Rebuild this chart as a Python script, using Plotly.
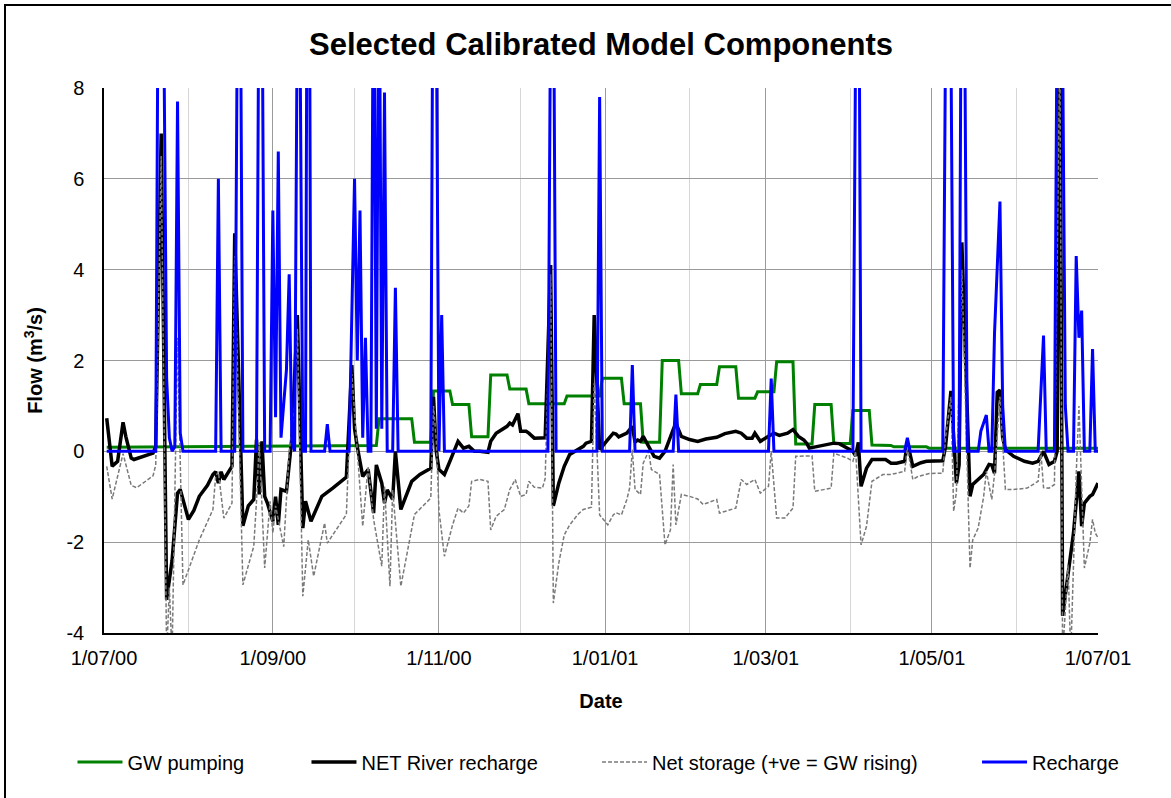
## import packages
import pandas as pd
import plotly.graph_objects as go


## global variables
start_date = pd.Timestamp('2000-07-01')
end_date = pd.Timestamp('2001-07-01')
font_family = 'Arial, Liberation Sans, sans-serif'

### y axis ticks (plain hyphen for negatives, as in the original)
y_tick_vals = [-4, -2, 0, 2, 4, 6, 8]
y_tick_text = ['-4', '-2', '0', '2', '4', '6', '8']

### model series (day number counted from 1/07/00, flow in m3/s)
pump_day = [1, 64, 100, 101, 113, 114, 120, 121,
            127, 128, 134, 135, 141, 142, 148, 149,
            155, 156, 169, 170, 182, 183, 190, 191,
            197, 198, 204, 205, 211, 212, 218, 219,
            225, 226, 232, 233, 239, 240, 246, 247,
            253, 254, 260, 261, 267, 268, 274, 275,
            281, 282, 289, 290, 302, 303, 365]
pump_flow = [0.09, 0.12, 0.13, 0.72, 0.72, 0.2, 0.2, 1.33,
             1.33, 1.03, 1.03, 0.32, 0.32, 1.68, 1.68, 1.37,
             1.37, 1.05, 1.05, 1.22, 1.22, 1.61, 1.61, 1.05,
             1.05, 0.2, 0.2, 2.0, 2.0, 1.27, 1.27, 1.47,
             1.47, 1.86, 1.86, 1.17, 1.17, 1.31, 1.31, 1.97,
             1.97, 0.16, 0.16, 1.03, 1.03, 0.17, 0.17, 0.9,
             0.9, 0.14, 0.13, 0.1, 0.1, 0.07, 0.07]

river_day = [1, 3, 5, 7, 8, 10, 11, 14, 18, 19,
             21, 23, 25, 27, 28, 31, 33, 35, 38, 40,
             41, 42, 43, 44, 47, 48, 51, 53, 55, 56,
             57, 58, 59, 60, 62, 63, 64, 65, 67, 69,
             71, 73, 74, 76, 77, 80, 84, 89, 91, 92,
             93, 95, 97, 99, 100, 102, 103, 104, 106, 107,
             109, 113, 116, 120, 121, 122, 123, 125, 127, 128,
             130, 132, 134, 136, 138, 141, 142, 144, 146, 148,
             149, 150, 152, 153, 155, 156, 158, 161, 162, 164,
             165, 167, 169, 171, 174, 176, 177, 179, 180, 182,
             185, 187, 188, 189, 192, 194, 195, 196, 197, 198,
             199, 202, 204, 206, 209, 210, 212, 215, 218, 221,
             225, 228, 232, 234, 236, 238, 239, 241, 244, 246,
             248, 251, 253, 255, 257, 258, 259, 262, 265, 268,
             270, 273, 275, 276, 277, 278, 280, 282, 287, 289,
             291, 294, 295, 297, 300, 302, 308, 309, 311, 313,
             314, 315, 318, 319, 321, 323, 325, 326, 327, 328,
             329, 330, 331, 334, 338, 341, 343, 345, 347, 349,
             350, 351, 352, 356, 358, 359, 360, 362, 363, 364,
             365]
river_flow = [0.73, -0.33, -0.22, 0.64, 0.33, -0.15, -0.18, -0.12, -0.04, 0.1,
              7.0, -3.27, -2.4, -0.92, -0.84, -1.5, -1.3, -0.99, -0.75, -0.51,
              -0.45, -0.7, -0.45, -0.62, -0.33, 4.8, -1.64, -1.2, -1.06, 0.26,
              -0.95, 0.22, -0.99, -1.14, -1.54, -1.0, -1.62, -0.84, -0.88, 0.3,
              3.0, -1.69, -1.1, -1.54, -1.39, -0.99, -0.81, -0.57, 1.9, 0.5,
              0.1, -0.55, -0.4, -1.36, -0.3, -0.7, -1.14, -0.85, -1.06, 0.0,
              -1.28, -0.66, -0.51, -0.37, 1.2, 0.0, -0.4, -0.51, -0.22, -0.07,
              0.22, 0.07, 0.11, 0.0, 0.0, -0.02, 0.22, 0.4, 0.47, 0.55,
              0.62, 0.58, 0.83, 0.44, 0.44, 0.4, 0.29, 0.29, 0.3, 4.1,
              -1.2, -0.7, -0.33, -0.07, 0.04, 0.11, 0.18, 0.22, 3.0, 0.04,
              0.26, 0.4, 0.38, 0.32, 0.4, 0.55, 0.2, 0.25, 0.22, 0.33,
              0.22, -0.11, -0.15, 0.0, 0.48, 0.62, 0.33, 0.26, 0.22, 0.27,
              0.31, 0.39, 0.44, 0.4, 0.29, 0.29, 0.4, 0.22, 0.33, 0.4,
              0.35, 0.4, 0.48, 0.33, 0.25, 0.18, 0.07, 0.11, 0.15, 0.18,
              0.17, 0.07, 0.0, -0.1, 0.2, -0.77, -0.37, -0.18, -0.18, -0.26,
              -0.26, -0.22, 0.2, -0.33, -0.25, -0.22, -0.21, 0.1, 1.33, -0.7,
              -0.3, 4.6, -0.99, -0.73, -0.62, -0.51, -0.29, -0.3, -0.48, 1.3,
              1.35, 0.3, 0.04, -0.11, -0.22, -0.26, -0.22, 0.0, -0.29, -0.22,
              0.0, 9.5, -3.62, -1.8, -0.44, -1.65, -1.14, -0.99, -0.95, -0.84,
              -0.7]

storage_day = [1, 3, 7, 10, 12, 18, 19, 21, 23, 24,
               25, 27, 29, 35, 40, 41, 42, 44, 47, 48,
               51, 55, 56, 57, 59, 61, 62, 63, 66, 67,
               68, 70, 71, 73, 75, 77, 81, 82, 89, 91,
               95, 97, 99, 102, 103, 105, 106, 109, 114, 120,
               121, 122, 123, 125, 128, 130, 132, 134, 135, 138,
               141, 142, 144, 147, 149, 151, 153, 155, 156, 158,
               161, 162, 164, 165, 167, 169, 171, 174, 176, 179,
               180, 182, 185, 187, 188, 190, 192, 193, 194, 195,
               197, 198, 200, 201, 204, 206, 208, 209, 210, 212,
               215, 218, 220, 225, 226, 232, 234, 236, 239, 241,
               244, 245, 247, 250, 253, 254, 260, 261, 267, 268,
               273, 275, 276, 278, 280, 282, 283, 286, 289, 294,
               295, 297, 299, 303, 308, 309, 311, 312, 313, 315,
               318, 319, 321, 323, 324, 326, 327, 329, 331, 334,
               339, 343, 344, 345, 347, 349, 351, 352, 354, 355,
               357, 358, 360, 362, 363, 364, 365]
storage_flow = [-0.33, -1.05, -0.05, -0.75, -0.8, -0.54, -0.3, 6.5, -4.5, -3.0,
                -4.5, 2.5, -2.94, -1.95, -1.28, -0.55, -0.45, -1.47, -1.14, 4.3,
                -2.94, -2.09, -1.1, 0.2, -2.57, -1.1, -1.8, -1.2, -2.1, -1.1,
                0.0, 1.0, 2.7, -3.19, -1.95, -2.75, -1.58, -2.02, -1.39, 1.7,
                -1.65, -0.33, -1.5, -2.53, -0.77, -2.97, -0.85, -2.97, -1.39, -1.03,
                1.0, 0.26, -1.3, -2.31, -1.62, -1.25, -1.36, -1.2, -0.66, -0.62,
                -0.66, -1.73, -1.43, -1.28, -0.84, -0.62, -0.99, -0.95, -0.66, -0.79,
                -0.81, -0.6, 3.9, -3.34, -2.46, -1.84, -1.62, -1.39, -1.28, -1.23,
                1.5, -1.4, -1.62, -1.4, -1.35, -1.4, -1.06, -0.81, 0.04, -0.84,
                -0.95, -0.26, 0.0, -0.4, -0.51, -2.06, -1.73, -0.29, -1.62, -0.95,
                -0.99, -1.05, -1.17, -1.06, -1.36, -1.25, -0.62, -0.73, -0.62, -0.92,
                -0.77, 0.0, -1.47, -1.47, -1.25, -0.11, -0.1, -0.88, -0.81, -0.04,
                -0.15, -0.22, 0.0, -2.06, -1.65, -0.66, -0.62, -0.51, -0.51, -0.44,
                0.1, -0.62, -0.55, -0.49, -0.48, 0.3, 1.2, -1.32, -0.9, 4.0,
                -2.57, -1.95, -1.69, -1.0, -0.44, -1.06, -0.5, 1.2, -0.84, -0.84,
                -0.81, -0.66, 0.0, -0.8, -0.81, -0.73, 9.0, -4.5, -2.5, -4.5,
                -0.5, 1.0, -2.57, -2.02, -1.5, -1.8, -1.9]

recharge_day = [1, 19, 20, 21, 22, 23, 24, 25, 26, 27, 28, 29,
                41, 42, 43, 48, 49, 50, 51, 56, 57, 58, 59,
                61, 62, 63, 64, 65, 67, 68, 69, 70, 71, 72, 73, 74, 75, 76,
                81, 82, 83, 90, 92, 93, 94, 95, 96, 97, 98, 99, 100, 101, 102, 103, 104,
                106, 107, 108, 120, 121, 122, 123, 124, 125,
                163, 164, 165, 166, 181, 182, 183, 193, 194, 195, 209, 210, 211,
                244, 245, 246, 275, 276, 277, 278, 294, 295, 296,
                308, 309, 310, 311, 312, 314, 315, 316, 317,
                321, 322, 324, 325, 326, 327, 329, 330, 331,
                343, 345, 346, 349, 350, 351, 352, 353, 354,
                356, 357, 358, 359, 360, 362, 363, 364, 365]
recharge_flow = [0, 0, 12, 14, 9, 1.6, 0.3, 0, 0.1, 7.7, 0.4, 0,
                 0, 6.0, 0, 0, 10, 11.5, 0, 0, 12, 11, 0,
                 0, 5.3, 0.75, 6.6, 0.3, 1.8, 3.9, 0.2, 0, 10, 9, 0, 0, 20, 0,
                 0, 0.6, 0, 0, 6.0, 2.0, 5.3, 0.3, 2.5, 0, 0, 12, 0.5, 12, 0.5, 7.9, 0,
                 0, 3.6, 0, 0, 14, 10, 0, 3.0, 0,
                 0, 10, 11.5, 0, 0, 7.8, 0, 0, 1.9, 0, 0, 1.25, 0,
                 0, 1.6, 0, 0, 9, 14, 0, 0, 0.3, 0,
                 0, 9, 14, 9, 0, 0, 14, 10, 0,
                 0, 0.45, 0.8, 0, 0, 2.6, 5.5, 1.0, 0,
                 0, 2.55, 0, 0, 10, 14, 9, 1.0, 0,
                 0, 4.3, 2.5, 3.1, 0, 0, 2.25, 0, 0]


## functions
def to_dates(days):
    # model day number -> calendar date
    return start_date + pd.to_timedelta(days, unit='D')


def legend_box(x):
    # one legend per series so the entries sit where the original puts them
    return dict(
        orientation='h',
        x=x, xanchor='left',
        y=-0.2367, yanchor='middle',
        itemwidth=45,
        bgcolor='rgba(0,0,0,0)',
        font=dict(family=font_family, size=20, color='black'),
    )


## generate chart
fig = go.Figure()

fig.add_trace(go.Scatter(
    x=to_dates(pump_day), y=pump_flow, mode='lines', name='GW pumping',
    line=dict(color='#008000', width=3), legend='legend',
))
fig.add_trace(go.Scatter(
    x=to_dates(river_day), y=river_flow, mode='lines', name='NET River recharge',
    line=dict(color='#000000', width=3.5), legend='legend2',
))
fig.add_trace(go.Scatter(
    x=to_dates(storage_day), y=storage_flow, mode='lines', name='Net storage (+ve = GW rising)',
    line=dict(color='#7a7a7a', width=1.5, dash='4px,2px'), legend='legend3',
))
fig.add_trace(go.Scatter(
    x=to_dates(recharge_day), y=recharge_flow, mode='lines', name='Recharge',
    line=dict(color='#0000FF', width=3), legend='legend4',
))

fig.update_layout(
    width=1171,
    height=798,
    showlegend=True,
    margin=dict(l=104, r=73, t=88, b=165),
    paper_bgcolor='white',
    plot_bgcolor='white',
    font=dict(family=font_family, size=20, color='black'),
    title=dict(
        text='<b>Selected Calibrated Model Components</b>',
        font=dict(family=font_family, size=31, color='black'),
        x=0.5, xref='paper', xanchor='center',
        y=1 - 44 / 798, yref='container', yanchor='middle',
    ),
    xaxis=dict(
        type='date',
        range=[start_date, end_date],
        tick0=start_date,
        dtick='M2',
        tickformat='%-d/%m/%y',
        ticks='',
        ticklabelstandoff=6,
        tickfont=dict(size=20),
        showgrid=True,
        gridcolor='#9a9a9a',
        gridwidth=1,
        minor=dict(dtick='M1', tick0=start_date, showgrid=True, gridcolor='#d6d6d6', gridwidth=1),
        showline=True,
        linecolor='black',
        linewidth=1.5,
        zeroline=False,
        title=dict(text='<b>Date</b>', font=dict(size=20), standoff=26),
    ),
    yaxis=dict(
        range=[-4, 8],
        tickmode='array',
        tickvals=y_tick_vals,
        ticktext=y_tick_text,
        ticks='',
        ticklabelstandoff=14,
        tickfont=dict(size=20),
        showgrid=True,
        gridcolor='#9a9a9a',
        gridwidth=1,
        showline=True,
        linecolor='black',
        linewidth=1.5,
        zeroline=False,
        title=dict(text='<b>Flow (m<sup>3</sup>/s)</b>', font=dict(size=20), standoff=18),
    ),
    legend=legend_box(-0.0317),
    legend2=legend_box(0.2037),
    legend3=legend_box(0.4960),
    legend4=legend_box(0.8783),
    shapes=[dict(
        type='rect', xref='paper', yref='paper',
        x0=-0.0996, x1=1.2, y0=-0.5, y1=1.1523,
        line=dict(color='black', width=2), fillcolor='rgba(0,0,0,0)',
    )],
)

# drop the browser's default page margin so the chart sits at the window origin
fig.write_html(
    'out.html',
    config={'displayModeBar': False},
    post_script="document.body.style.margin = '0';",
)
